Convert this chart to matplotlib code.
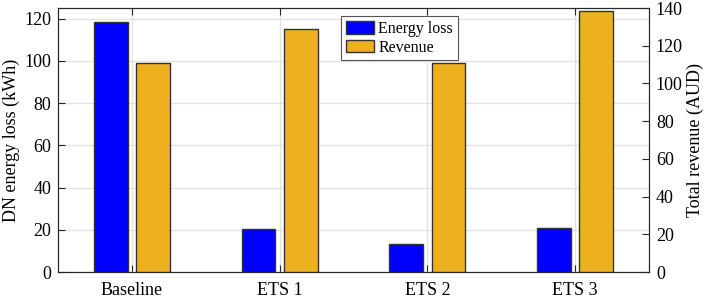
import matplotlib
matplotlib.use("Agg")
import matplotlib.pyplot as plt
import numpy as np

plt.rcParams['font.family'] = ['Liberation Serif', 'DejaVu Serif']
plt.rcParams['font.size'] = 13

# data
categories = ["Baseline", "ETS 1", "ETS 2", "ETS 3"]
energy_loss = [118.5, 20.5, 13.3, 20.7]      # kWh (left axis)
revenue = [110.7, 128.7, 110.9, 138.3]       # AUD (right axis)

blue = "#0000ff"
gold = "#edb120"
edge = "#333333"
spine_col = "#262626"

fig = plt.figure(figsize=(7.06, 3.01), dpi=100)
ax = fig.add_axes([0.0822, 0.0963, 0.8370, 0.8771])
ax2 = ax.twinx()

x = np.arange(1, len(categories) + 1)
w = 0.228
off = 0.143

b1 = ax.bar(x - off, energy_loss, w, color=blue, edgecolor=edge, linewidth=1, zorder=3, label="Energy loss")
b2 = ax2.bar(x + off, revenue, w, color=gold, edgecolor=edge, linewidth=1, zorder=3, label="Revenue")

ax.set_xlim(0.5, 4.5)
ax.set_ylim(0, 125)
ax2.set_ylim(0, 140)
ax.set_yticks(np.arange(0, 121, 20))
ax2.set_yticks(np.arange(0, 141, 20))
ax.set_xticks(x)
ax.set_xticklabels(categories)

# grid behind bars
ax.set_axisbelow(True)
ax.grid(True, color="#e3e3e3", linewidth=1, zorder=0)

ax.set_ylabel("DN energy loss (kWh)", labelpad=3)
ax2.set_ylabel("Total revenue (AUD)", labelpad=3)

for a in (ax, ax2):
    for s in a.spines.values():
        s.set_color(spine_col)
        s.set_linewidth(0.8)
ax.tick_params(axis="both", direction="in", length=5, color=spine_col, top=True, right=False, pad=5)
ax.tick_params(axis="x", pad=7)
ax2.tick_params(axis="y", direction="in", length=5, color=spine_col, pad=5)

leg = ax2.legend([b1, b2], ["Energy loss", "Revenue"], loc="upper center",
                 bbox_to_anchor=(0.578, 0.968), fancybox=False, framealpha=1,
                 edgecolor="#555555", handlelength=1.75, handleheight=0.85,
                 borderpad=0.3, labelspacing=0.15, handletextpad=0.25, borderaxespad=0,
                 prop={'size': 11.5})
leg.get_frame().set_linewidth(0.8)

fig.savefig("out.png", dpi=100)
